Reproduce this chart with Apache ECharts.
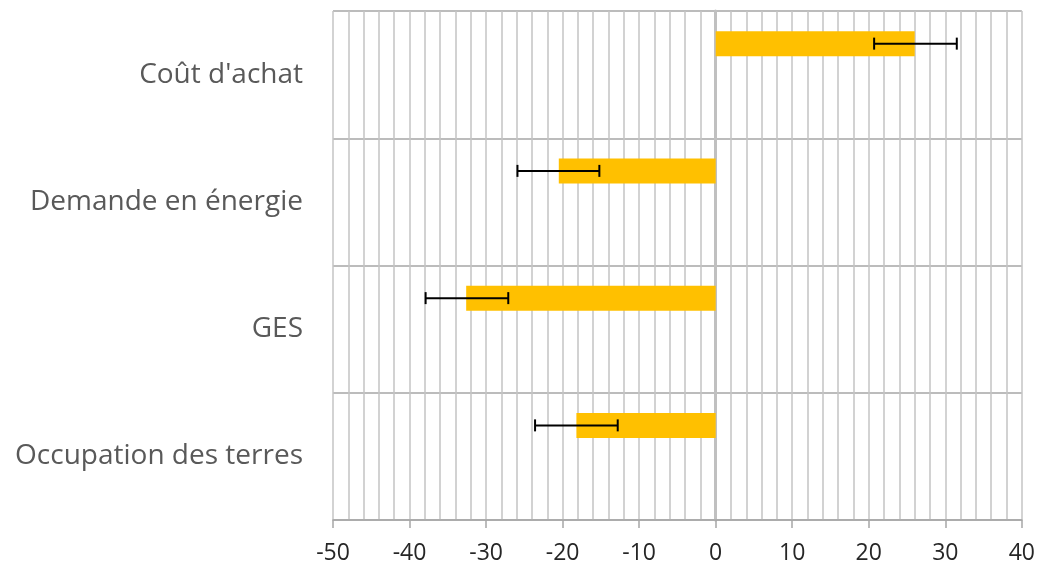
<!DOCTYPE html>
<html>
<head>
<meta charset="utf-8">
<script src="https://cdn.jsdelivr.net/npm/echarts@6/dist/echarts.min.js"></script>
<style>
html, body { margin: 0; padding: 0; background: #fff; }
#main { width: 1038px; height: 565px; }
</style>
</head>
<body>
<div id="main"></div>
<script>
// categories, top to bottom
var categories = ["Coût d'achat", "Demande en énergie", "GES", "Occupation des terres"];
// bar values (%)
var values = [26, -20.5, -32.6, -18.2];
// error bar ends
var errLow = [20.7, -25.9, -37.9, -23.6];
var errHigh = [31.5, -15.2, -27.1, -12.8];

var BAR_W = 25;
var OFFSET = -31; // bar centre relative to category centre (empty 2nd series in the original)

var errData = [];
for (var i = 0; i < categories.length; i++) {
	errData.push([errLow[i], errHigh[i], i]);
}

var myChart = echarts.init(document.getElementById('main'));
var option = {
	animation: false,
	grid: { left: 333, right: 16, top: 11, bottom: 45 },
	xAxis: {
		type: 'value',
		min: -50,
		max: 40,
		interval: 10,
		axisLine: { show: true, onZero: false, lineStyle: { color: '#a6a6a6', width: 1.5 } },
		axisTick: { show: true, length: 8, lineStyle: { color: '#a6a6a6', width: 1.5 } },
		axisLabel: { color: '#262626', fontSize: 23, fontFamily: 'Open Sans', margin: 22 },
		splitLine: { show: true, lineStyle: { color: '#c4c4c4', width: 1.5 } },
		minorTick: { show: false, splitNumber: 5 },
		minorSplitLine: { show: true, lineStyle: { color: '#c4c4c4', width: 1.5 } }
	},
	yAxis: {
		type: 'category',
		inverse: true,
		data: categories,
		axisLine: { show: true, onZero: true, lineStyle: { color: '#c0c0c0', width: 3 } },
		axisTick: { show: false },
		axisLabel: { color: '#595959', fontSize: 28, fontFamily: 'Open Sans', margin: 30, padding: [4, 0, 0, 0] },
		splitLine: { show: true, lineStyle: { color: '#a6a6a6', width: 1.5 } }
	},
	series: [{
		type: 'bar',
		data: values,
		barWidth: BAR_W,
		barGap: '148%',
		itemStyle: { color: '#ffc000' },
		z: 3
	}, {
		type: 'bar',
		data: [null, null, null, null],
		barWidth: BAR_W
	}, {
		type: 'custom',
		data: errData,
		z: 5,
		renderItem: function(params, api) {
			var a = api.coord([api.value(0), api.value(2)]);
			var b = api.coord([api.value(1), api.value(2)]);
			var y = a[1] + OFFSET;
			var h = 6;
			var st = { stroke: '#000', lineWidth: 2 };
			return {
				type: 'group',
				children: [
					{ type: 'line', shape: { x1: a[0], y1: y, x2: b[0], y2: y }, style: st },
					{ type: 'line', shape: { x1: a[0], y1: y - h, x2: a[0], y2: y + h }, style: st },
					{ type: 'line', shape: { x1: b[0], y1: y - h, x2: b[0], y2: y + h }, style: st }
				]
			};
		}
	}]
};
myChart.setOption(option);
</script>
</body>
</html>
